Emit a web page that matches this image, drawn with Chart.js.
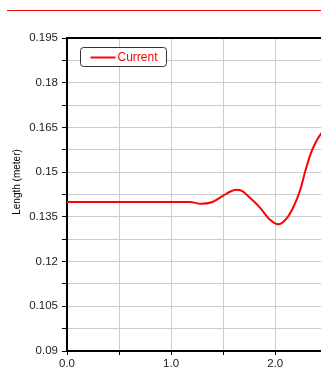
<!DOCTYPE html>
<html>
<head>
<meta charset="utf-8">
<script src="https://cdn.jsdelivr.net/npm/chart.js@4"></script>
<style>
  html, body { margin: 0; padding: 0; background: #fff; }
  #wrap { width: 321px; height: 369px; }
</style>
</head>
<body>
<div id="wrap"><canvas id="chart" width="321" height="369"></canvas></div>
<script>
// time along the run and measured length
const timeValues = [0, 0.5, 1.0, 1.1, 1.18, 1.285, 1.39, 1.5, 1.57, 1.625, 1.68, 1.76, 1.856, 1.95, 2.03, 2.11, 2.176, 2.24, 2.288, 2.337, 2.385, 2.433, 2.5];
const currentLength = [0.14, 0.14, 0.14, 0.14, 0.14, 0.1394, 0.1399, 0.1421, 0.1435, 0.1441, 0.1437, 0.1413, 0.138, 0.134, 0.1325, 0.1345, 0.1384, 0.144, 0.1502, 0.1558, 0.1597, 0.1625, 0.1652];

const xLabelValues = [0, 1, 2];
const xTickLabels = ['0.0', '1.0', '2.0'];
const yTickLabels = ['0.09', '0.105', '0.12', '0.135', '0.15', '0.165', '0.18', '0.195'];
const yTitle = 'Length (meter)';

const FONT = 'Liberation Sans, Arial, sans-serif';

const frameAndLegend = {
  id: 'frameAndLegend',
  afterDraw(chart) {
    const { ctx, chartArea: a } = chart;
    ctx.save();
    // red rule at the top of the page
    ctx.strokeStyle = '#ff0000';
    ctx.lineWidth = 1;
    ctx.beginPath();
    ctx.moveTo(7, 10.5);
    ctx.lineTo(321, 10.5);
    ctx.stroke();

    // top border of the plot
    ctx.strokeStyle = '#000';
    ctx.lineWidth = 2;
    ctx.beginPath();
    ctx.moveTo(a.left - 1, a.top);
    ctx.lineTo(a.right, a.top);
    ctx.stroke();

    // y axis title (sits a bit above the plot centre)
    ctx.save();
    ctx.translate(17, 182);
    ctx.rotate(-Math.PI / 2);
    ctx.fillStyle = '#000';
    ctx.font = '10px ' + FONT;
    ctx.textAlign = 'center';
    ctx.textBaseline = 'middle';
    ctx.fillText(yTitle, 0, 0);
    ctx.restore();

    // legend box
    const ds = chart.data.datasets[0];
    const bx = a.left + 13.5, by = a.top + 9.5, bw = 86, bh = 19;
    ctx.fillStyle = '#fff';
    ctx.strokeStyle = '#333';
    ctx.lineWidth = 1;
    ctx.beginPath();
    ctx.roundRect(bx, by, bw, bh, 3);
    ctx.fill();
    ctx.stroke();
    ctx.strokeStyle = ds.borderColor;
    ctx.lineWidth = 2;
    ctx.beginPath();
    ctx.moveTo(bx + 10, by + 10);
    ctx.lineTo(bx + 35, by + 10);
    ctx.stroke();
    ctx.fillStyle = ds.borderColor;
    ctx.font = '12px ' + FONT;
    ctx.textBaseline = 'middle';
    ctx.fillText(ds.label, bx + 37, by + 10);
    ctx.restore();
  }
};

new Chart(document.getElementById('chart'), {
  type: 'line',
  data: {
    datasets: [{
      label: 'Current',
      data: timeValues.map((t, i) => ({ x: t, y: currentLength[i] })),
      borderColor: '#ff0000',
      borderWidth: 2,
      pointRadius: 0,
      fill: false,
      cubicInterpolationMode: 'monotone'
    }]
  },
  options: {
    responsive: false,
    animation: false,
    devicePixelRatio: 1,
    layout: { padding: { top: 38, left: 0, right: 0, bottom: 0 } },
    plugins: { legend: { display: false }, tooltip: { enabled: false } },
    scales: {
      x: {
        type: 'linear',
        min: 0,
        max: 2.44,
        afterFit(scale) { scale.height = 18; },
        border: { color: '#000', width: 2 },
        grid: { color: '#cccccc', lineWidth: 1, tickColor: '#000', tickLength: 4 },
        ticks: {
          stepSize: 0.5,
          includeBounds: false,
          maxRotation: 0,
          autoSkip: false,
          padding: 2,
          color: '#222',
          font: { family: FONT, size: 11.5 },
          callback(v) {
            const k = xLabelValues.indexOf(v);
            return k >= 0 ? xTickLabels[k] : '';
          }
        }
      },
      y: {
        min: 0.09,
        max: 0.195,
        afterFit(scale) { scale.width = 67; },
        border: { color: '#000', width: 2 },
        grid: { color: '#cccccc', lineWidth: 1, tickColor: '#000', tickLength: 5 },
        ticks: {
          stepSize: 0.0075,
          autoSkip: false,
          padding: 4,
          color: '#222',
          font: { family: FONT, size: 11.5 },
          callback(v, i) {
            return i % 2 === 0 ? yTickLabels[i / 2] : '';
          }
        }
      }
    }
  },
  plugins: [frameAndLegend]
});
</script>
</body>
</html>
